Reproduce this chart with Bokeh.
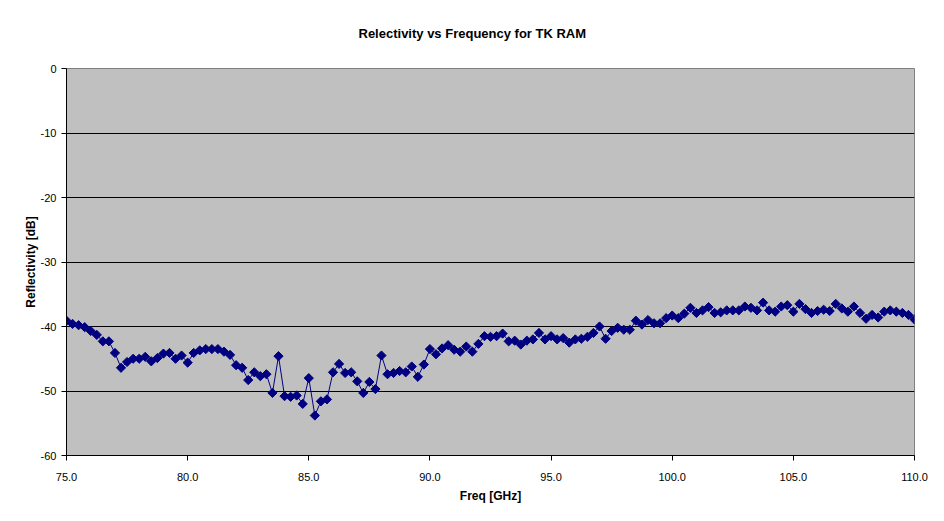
import math
from bokeh.plotting import figure
from bokeh.embed import file_html
from bokeh.resources import INLINE
from bokeh.models import FixedTicker, CustomJSTickFormatter, NumeralTickFormatter

freq_start = 75.0
freq_step = 0.25
reflectivity = [
    -39.1, -39.6, -39.8, -40.1, -40.7, -41.3, -42.3, -42.3, -44.1, -46.4,
    -45.5, -45.0, -45.0, -44.7, -45.4, -44.9, -44.2, -44.1, -45.0, -44.5,
    -45.6, -44.1, -43.7, -43.5, -43.5, -43.5, -43.9, -44.4, -46.0, -46.4,
    -48.3, -47.1, -47.7, -47.4, -50.3, -44.6, -50.8, -50.9, -50.7, -52.0,
    -48.0, -53.8, -51.6, -51.3, -47.1, -45.8, -47.2, -47.1, -48.5, -50.3,
    -48.6, -49.7, -44.5, -47.4, -47.2, -46.9, -47.1, -46.2, -47.8, -45.9,
    -43.5, -44.3, -43.4, -42.9, -43.6, -43.9, -43.1, -43.9, -42.7, -41.5,
    -41.6, -41.5, -41.1, -42.3, -42.2, -42.8, -42.2, -42.0, -41.0, -42.0,
    -41.5, -42.0, -41.8, -42.5, -42.0, -41.9, -41.6, -41.0, -40.0, -41.9,
    -40.7, -40.2, -40.5, -40.5, -39.1, -39.7, -39.0, -39.5, -39.5, -38.7,
    -38.3, -38.7, -38.0, -37.1, -37.9, -37.5, -37.0, -37.9, -37.8, -37.5,
    -37.5, -37.5, -36.9, -37.1, -37.5, -36.3, -37.5, -37.7, -36.9, -36.7,
    -37.7, -36.5, -37.3, -37.9, -37.6, -37.4, -37.6, -36.5, -37.2, -37.7,
    -36.9, -37.9, -38.8, -38.2, -38.6, -37.7, -37.5, -37.7, -37.9, -38.2,
    -38.9,
]
freq = [freq_start + i * freq_step for i in range(len(reflectivity))]
x_ticks = [75, 80, 85, 90, 95, 100, 105, 110]
y_ticks = [0, -10, -20, -30, -40, -50, -60]
title_text = "Relectivity vs Frequency for TK RAM"

p = figure(width=928, height=505, output_backend="svg", toolbar_location=None,
           x_range=(75, 110), y_range=(-60, 0),
           min_border_left=66, min_border_right=14, min_border_top=68, min_border_bottom=50,
           background_fill_color="white", border_fill_color="white")
p.title.text = title_text
p.title.align = "left"
p.title.offset = 292
p.title.vertical_align = "top"
p.title.standoff = 51
p.title.text_font = "Liberation Sans"
p.title.text_font_size = "13px"
p.title.text_font_style = "bold"
p.title.text_color = "black"

p.background_fill_color = "#C0C0C0"
p.outline_line_color = "#808080"
p.outline_line_width = 1

p.line(freq, reflectivity, line_color="#000080", line_width=1)
p.scatter(freq, reflectivity, marker="square", size=6.5, angle=math.pi / 4,
          fill_color="#000080", line_color="#000080")

p.xaxis.ticker = FixedTicker(ticks=x_ticks)
p.xaxis.formatter = NumeralTickFormatter(format="0.0")
p.yaxis.ticker = FixedTicker(ticks=y_ticks)
p.yaxis.formatter = CustomJSTickFormatter(code="return tick.toFixed(0);")
p.xaxis.minor_tick_line_color = None
p.yaxis.minor_tick_line_color = None
for ax in (p.xaxis, p.yaxis):
    ax.axis_line_color = "black"
    ax.major_tick_line_color = "black"
    ax.major_tick_in = 0
    ax.major_tick_out = 5
    ax.major_label_text_font = "Liberation Sans"
    ax.major_label_text_font_size = "11px"
    ax.major_label_text_color = "black"
    ax.axis_label_text_font = "Liberation Sans"
    ax.axis_label_text_font_size = "12px"
    ax.axis_label_text_font_style = "bold"
    ax.axis_label_text_color = "black"
p.xaxis.major_label_standoff = 12
p.yaxis.axis_label_standoff = 0
p.xaxis.axis_label = "Freq [GHz]"
p.yaxis.axis_label = "Reflectivity [dB]"

p.xgrid.grid_line_color = None
p.ygrid.grid_line_color = "black"
p.ygrid.grid_line_width = 1
p.ygrid.ticker = FixedTicker(ticks=y_ticks)

open("out.html", "w").write(file_html(p, INLINE))
